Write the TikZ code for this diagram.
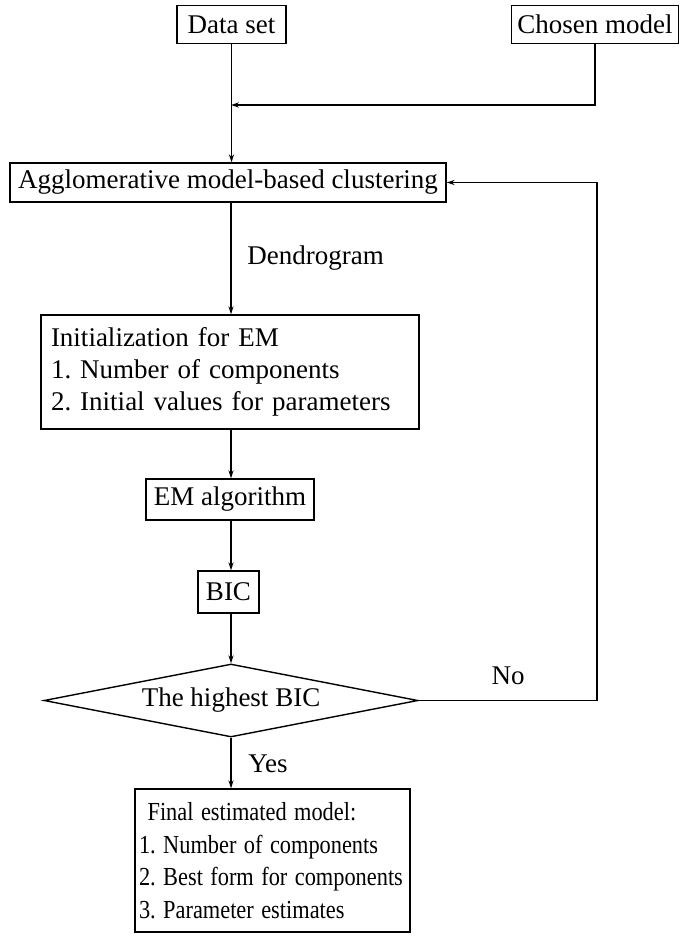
\documentclass[tikz,border=0pt]{standalone}
\usepackage{fontspec}
\usepackage{graphicx}
\setmainfont{Liberation Serif}
\usetikzlibrary{shapes.geometric,arrows.meta}
\frenchspacing
\newcommand\narrowline[1]{\scalebox{0.86}[1]{#1}}
\begin{document}
\begin{tikzpicture}[x=0.5pt,y=-0.5pt,
  box/.style={draw, line width=0.7pt, inner sep=0pt, font=\fontsize{13.5}{16}\selectfont},
  arr/.style={draw, line width=0.7pt, -{Stealth[length=4pt,width=2.6pt]}},
  lbl/.style={font=\fontsize{13.5}{16}\selectfont, inner sep=0pt}]
\useasboundingbox (0,0) rectangle (686,936);
\node[box, minimum width=54.5pt, minimum height=19pt] (data) at (231.5,24.5) {Data set};
\node[box, minimum width=83.5pt, minimum height=19pt] (chosen) at (595,24.5) {Chosen model};
\node[box, minimum width=218pt, minimum height=19.5pt] (agg) at (228,182.5) {Agglomerative model-based clustering};
\node[box, minimum width=189pt, minimum height=57pt, inner xsep=5pt, text width=179pt, align=left] (init) at (230,372)
  {Initialization for EM\\1. Number of components\\2. Initial values for parameters};
\node[box, minimum width=84pt, minimum height=20.5pt] (em) at (230,499.5) {EM algorithm};
\node[box, minimum width=30.5pt, minimum height=21pt] (bic) at (228.5,592) {BIC};
\node[box, shape=diamond, aspect=5.12, minimum width=187pt, minimum height=36.5pt] (dia) at (231,700.5) {The highest BIC};
\node[box, minimum width=137.5pt, minimum height=71.5pt, inner xsep=2pt, text width=133.5pt, align=left,
  font=\fontsize{13}{16.3}\selectfont] (final) at (272.5,860.5)
  {\narrowline{\hspace*{5pt}Final estimated model:}\\\narrowline{1. Number of components}\\\narrowline{2. Best form for components}\\\narrowline{3. Parameter estimates}};
\coordinate (j) at (231,105);
\coordinate (r) at (597,700.5);
\draw[arr] (data.south) -- (data.south |- agg.north);
\draw[arr] (chosen.south) |- (j);
\draw[arr] (agg.south -| j) -- (init.north -| j);
\node[lbl, anchor=west] (dend) at (247,258) {Dendrogram};
\draw[arr] (init.south -| j) -- (em.north -| j);
\draw[arr] (em.south -| j) -- (bic.north -| j);
\draw[arr] (bic.south -| j) -- (dia.north);
\draw[arr] (dia.south) -- (final.north -| dia.south);
\node[lbl, anchor=west] (yes) at (248,764) {Yes};
\draw[arr] (dia.east) -- (r) |- (agg.east);
\node[lbl] (no) at (508,676) {No};
\end{tikzpicture}
\end{document}
